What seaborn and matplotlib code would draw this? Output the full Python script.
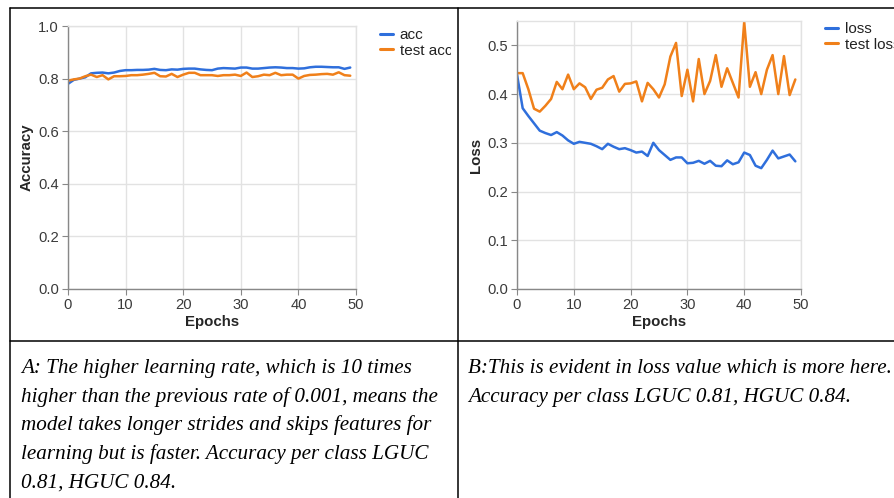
import numpy as np
import pandas as pd
import matplotlib
matplotlib.use("Agg")
import matplotlib.pyplot as plt
import seaborn as sns
from matplotlib.lines import Line2D
from matplotlib.transforms import Bbox, TransformedBbox

# ---- data ----
epochs = list(range(50))

acc = [0.780, 0.795, 0.800, 0.805, 0.820, 0.822, 0.823, 0.820, 0.823, 0.829,
       0.832, 0.832, 0.833, 0.833, 0.834, 0.837, 0.833, 0.832, 0.835, 0.834,
       0.837, 0.838, 0.838, 0.835, 0.833, 0.832, 0.838, 0.840, 0.839, 0.838,
       0.842, 0.842, 0.838, 0.838, 0.840, 0.842, 0.843, 0.842, 0.840, 0.840,
       0.838, 0.839, 0.843, 0.845, 0.845, 0.844, 0.843, 0.843, 0.837, 0.842]
test_acc = [0.792, 0.797, 0.800, 0.809, 0.815, 0.806, 0.813, 0.797, 0.809, 0.809,
            0.810, 0.813, 0.813, 0.815, 0.818, 0.822, 0.809, 0.808, 0.818, 0.806,
            0.815, 0.822, 0.822, 0.813, 0.813, 0.813, 0.810, 0.813, 0.813, 0.815,
            0.810, 0.823, 0.806, 0.809, 0.815, 0.813, 0.822, 0.813, 0.815, 0.815,
            0.800, 0.810, 0.814, 0.815, 0.817, 0.818, 0.815, 0.824, 0.813, 0.811]

loss = [0.440, 0.371, 0.355, 0.340, 0.325, 0.320, 0.316, 0.322, 0.315, 0.305,
        0.298, 0.302, 0.300, 0.298, 0.293, 0.287, 0.298, 0.292, 0.287, 0.289,
        0.285, 0.280, 0.282, 0.273, 0.300, 0.285, 0.275, 0.265, 0.270, 0.270,
        0.258, 0.259, 0.263, 0.257, 0.263, 0.253, 0.252, 0.264, 0.256, 0.260,
        0.280, 0.275, 0.253, 0.248, 0.265, 0.284, 0.268, 0.272, 0.276, 0.262]
test_loss = [0.443, 0.443, 0.410, 0.370, 0.364, 0.376, 0.390, 0.425, 0.410, 0.440,
             0.410, 0.422, 0.414, 0.390, 0.409, 0.413, 0.430, 0.437, 0.405, 0.421,
             0.422, 0.426, 0.385, 0.423, 0.410, 0.393, 0.420, 0.477, 0.505, 0.396,
             0.450, 0.385, 0.472, 0.400, 0.427, 0.480, 0.415, 0.453, 0.423, 0.393,
             0.548, 0.415, 0.445, 0.400, 0.450, 0.480, 0.400, 0.478, 0.398, 0.430]

acc_ticks = [0.0, 0.2, 0.4, 0.6, 0.8, 1.0]
loss_ticks = [0.0, 0.1, 0.2, 0.3, 0.4, 0.5]
epoch_ticks = [0, 10, 20, 30, 40, 50]

caption_a = ["A: The higher learning rate, which is 10 times",
             "higher than the previous rate of 0.001, means the",
             "model takes longer strides and skips features for",
             "learning but is faster. Accuracy per class LGUC",
             "0.81, HGUC 0.84."]
caption_b = ["B:This is evident in loss value which is more here.",
             "Accuracy per class LGUC 0.81, HGUC 0.84."]

BLUE = "#2f6fdc"
ORANGE = "#f0801a"
W, H = 894, 498

sns.set_theme(style="white")
plt.rcParams["font.family"] = ["Liberation Sans", "DejaVu Sans"]

fig = plt.figure(figsize=(W / 100, H / 100), dpi=100)


def fx(x):
    return x / W


def fy(y):
    return 1 - y / H


def make_axes(left, right, top, bottom):
    return fig.add_axes([fx(left), fy(bottom), (right - left) / W, (bottom - top) / H])


def draw_panel(ax, s1, s2, names, ylim, yticks, ylabel, leg_x, leg_y, clip_x):
    df = pd.DataFrame({
        "Epochs": epochs * 2,
        "value": s1 + s2,
        "series": [names[0]] * len(s1) + [names[1]] * len(s2),
    })
    sns.lineplot(data=df, x="Epochs", y="value", hue="series",
                 palette=[BLUE, ORANGE], linewidth=1.8, ax=ax)
    ax.set_xlim(0, 50)
    ax.set_ylim(*ylim)
    ax.set_xticks(epoch_ticks)
    ax.set_yticks(yticks)
    ax.set_yticklabels([f"{t:.1f}" for t in yticks])
    ax.grid(True, color="#e2e2e2", linewidth=1.0)
    ax.set_axisbelow(True)
    for side in ["top", "right"]:
        ax.spines[side].set_color("#e2e2e2")
        ax.spines[side].set_linewidth(1.0)
    for side in ["left", "bottom"]:
        ax.spines[side].set_color("#888888")
        ax.spines[side].set_linewidth(1.0)
    ax.tick_params(axis="both", which="major", direction="out", length=4.5,
                   width=0.8, color="#888888", labelsize=10.6, labelcolor="#3a3a3a", pad=2,
                   bottom=True, left=True)
    ax.set_xlabel("Epochs", fontsize=10.8, fontweight="bold", labelpad=2)
    ax.set_ylabel(ylabel, fontsize=10.8, fontweight="bold", labelpad=3)
    sns.move_legend(ax, loc="upper left", bbox_to_anchor=(fx(leg_x), fy(leg_y)),
                    bbox_transform=fig.transFigure, frameon=False, title=None,
                    fontsize=11, handlelength=0.85, handletextpad=0.45,
                    labelspacing=0.12, borderpad=0, borderaxespad=0)
    leg = ax.get_legend()
    for line in leg.get_lines():
        line.set_linewidth(2.2)
    clip = TransformedBbox(Bbox([[0, 0], [fx(clip_x), 1]]), fig.transFigure)
    for t in leg.get_texts():
        t.set_color("#222222")
        t.set_clip_box(clip)
        t.set_clip_on(True)


ax1 = make_axes(68, 356, 26, 289)
draw_panel(ax1, acc, test_acc, ["acc", "test acc"], (0, 1.0), acc_ticks,
           "Accuracy", 380, 28, 451)

ax2 = make_axes(517, 801, 21, 289)
draw_panel(ax2, loss, test_loss, ["loss", "test loss"], (0, 0.55), loss_ticks,
           "Loss", 825, 22, 894)

# table borders
for (x0, y0, x1, y1) in [(10, 8, W, 8), (10, 8, 10, H), (458, 8, 458, H), (10, 341, W, 341)]:
    fig.add_artist(Line2D([fx(x0), fx(x1)], [fy(y0), fy(y1)], color="black",
                          linewidth=1.1, transform=fig.transFigure))

# captions
for i, line in enumerate(caption_a):
    fig.text(fx(21), fy(373 + i * 28.7), line, family="Liberation Serif",
             style="italic", fontsize=15.2, va="baseline", ha="left", color="black")
for i, line in enumerate(caption_b):
    fig.text(fx(468), fy(373 + i * 28.7), line, family="Liberation Serif",
             style="italic", fontsize=15.2, va="baseline", ha="left", color="black")

fig.savefig("out.png", dpi=100)
